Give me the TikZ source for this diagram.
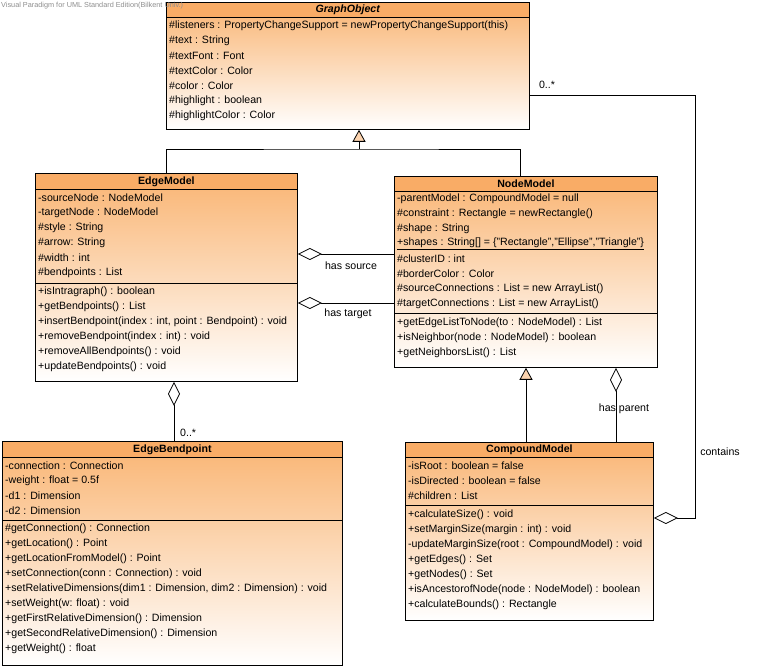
\documentclass[tikz,border=0pt]{standalone}
\usepackage{fontspec}
\setmainfont{Liberation Sans}
\usetikzlibrary{arrows.meta, positioning, calc}
\definecolor{umlhead}{HTML}{F9AC66}
\definecolor{umltop}{HTML}{F9B472}
\definecolor{trifill}{HTML}{FCD3AE}
\definecolor{wmgray}{HTML}{8E8E8E}
\tikzset{
  font=\fontsize{10.6}{15}\selectfont,
  cls/.style={
    draw=black, line width=0.8pt, anchor=north west, inner sep=0pt,
    top color=umltop, bottom color=white
  },
  clshead/.style={
    draw=black, line width=0.8pt, anchor=north west, inner sep=0pt,
    fill=umlhead, font=\fontsize{10.6}{15}\selectfont\bfseries
  },
  attr/.style={anchor=west, inner sep=0pt},
  lbl/.style={inner sep=0pt},
  sep/.style={line width=0.8pt},
  gen/.style={line width=0.8pt, -{Triangle[length=12pt, width=13pt, fill=trifill]}},
  aggr/.style={line width=0.8pt, {Diamond[length=24pt, width=12pt, fill=white]}-}
}

\begin{document}
\begin{tikzpicture}[x=1pt, y=-1pt]
  \useasboundingbox[fill=white] (0,0) rectangle (764,668);

  % GraphObject
  \node[cls, minimum width=363pt, minimum height=127pt] (go) at (166,2) {};
  \node[clshead, minimum width=363pt, minimum height=15pt] (go-h) at (go.north west)
    {\textit{GraphObject}};
  \foreach \t [count=\i from 0] in {
    {\#listeners : PropertyChangeSupport = newPropertyChangeSupport(this)},
    \#text : String, \#textFont : Font, \#textColor : Color, \#color : Color,
    \#highlight : boolean, \#highlightColor : Color}
    \node[attr] (go-a\i) at (169, {26+15*\i}) {\t};

  % EdgeModel
  \node[cls, minimum width=262pt, minimum height=208pt] (em) at (35,173) {};
  \node[clshead, minimum width=262pt, minimum height=16pt] (em-h) at (em.north west) {EdgeModel};
  \draw[sep] (em.west |- 0,283) -- (em.east |- 0,283);
  \foreach \t [count=\i from 0] in {
    -sourceNode : NodeModel, -targetNode : NodeModel, \#style : String,
    \#arrow: String, \#width : int, \#bendpoints : List}
    \node[attr] (em-a\i) at (38, {198+15*\i}) {\t};
  \foreach \t [count=\i from 0] in {
    +isIntragraph() : boolean, +getBendpoints() : List,
    {+insertBendpoint(index : int, point : Bendpoint) : void},
    +removeBendpoint(index : int) : void, +removeAllBendpoints() : void,
    +updateBendpoints() : void}
    \node[attr] (em-m\i) at (38, {292+15*\i}) {\t};

  % NodeModel
  \node[cls, minimum width=263pt, minimum height=191pt] (nm) at (394,176) {};
  \node[clshead, minimum width=263pt, minimum height=15pt] (nm-h) at (nm.north west) {NodeModel};
  \draw[sep] (nm.west |- 0,313) -- (nm.east |- 0,313);
  \foreach \t [count=\i from 0] in {
    -parentModel : CompoundModel = null, \#constraint : Rectangle = newRectangle(),
    \#shape : String,
    {\underline{+shapes : String[] = \{"Rectangle","Ellipse","Triangle"\}}},
    \#clusterID : int, \#borderColor : Color,
    \#sourceConnections : List = new ArrayList(),
    \#targetConnections : List = new ArrayList()}
    \node[attr] (nm-a\i) at (397, {199+15*\i}) {\t};
  \foreach \t [count=\i from 0] in {
    +getEdgeListToNode(to : NodeModel) : List,
    +isNeighbor(node : NodeModel) : boolean, +getNeighborsList() : List}
    \node[attr] (nm-m\i) at (397, {323+15*\i}) {\t};

  % EdgeBendpoint
  \node[cls, minimum width=340pt, minimum height=224pt] (eb) at (2,441) {};
  \node[clshead, minimum width=340pt, minimum height=16pt] (eb-h) at (eb.north west) {EdgeBendpoint};
  \draw[sep] (eb.west |- 0,520) -- (eb.east |- 0,520);
  \foreach \t [count=\i from 0] in {
    -connection : Connection, -weight : float = 0.5f, -d1 : Dimension, -d2 : Dimension}
    \node[attr] (eb-a\i) at (5, {466+15*\i}) {\t};
  \foreach \t [count=\i from 0] in {
    \#getConnection() : Connection, +getLocation() : Point,
    +getLocationFromModel() : Point, +setConnection(conn : Connection) : void,
    {+setRelativeDimensions(dim1 : Dimension, dim2 : Dimension) : void},
    +setWeight(w: float) : void, +getFirstRelativeDimension() : Dimension,
    +getSecondRelativeDimension() : Dimension, +getWeight() : float}
    \node[attr] (eb-m\i) at (5, {529+15*\i}) {\t};

  % CompoundModel
  \node[cls, minimum width=248pt, minimum height=178pt] (cm) at (405,442) {};
  \node[clshead, minimum width=248pt, minimum height=15pt] (cm-h) at (cm.north west) {CompoundModel};
  \draw[sep] (cm.west |- 0,505) -- (cm.east |- 0,505);
  \foreach \t [count=\i from 0] in {
    -isRoot : boolean = false, -isDirected : boolean = false, \#children : List}
    \node[attr] (cm-a\i) at (408, {466+15*\i}) {\t};
  \foreach \t [count=\i from 0] in {
    +calculateSize() : void, +setMarginSize(margin : int) : void,
    -updateMarginSize(root : CompoundModel) : void, +getEdges() : Set,
    +getNodes() : Set, +isAncestorofNode(node : NodeModel) : boolean,
    +calculateBounds() : Rectangle}
    \node[attr] (cm-m\i) at (408, {515+15*\i}) {\t};

  % generalizations
  \coordinate (gohub) at (359,149);
  \coordinate (nmtop) at (nm.north -| 520,0);
  \draw[gen] (gohub) -- (go.south -| gohub);
  \draw[line width=0.8pt] (em.north) |- (gohub) -| (nmtop);
  \draw[gen] (cm.north -| 526,0) -- (nm.south -| 526,0);

  % aggregations
  \draw[aggr] (em.east |- 0,254) -- (nm.west |- 0,254);
  \node[lbl] (srclbl) at (351,266) {has source};
  \draw[aggr] (em.east |- 0,303) -- (nm.west |- 0,303);
  \node[lbl] (tgtlbl) at (348,314) {has target};
  \draw[aggr] (em.south -| 174,0) -- (eb.north -| 174,0);
  \node[lbl, anchor=west] (bpmult) at (180,433) {0..*};
  \draw[aggr] (nm.south -| 616,0) -- (cm.north -| 616,0);
  \node[lbl] (parlbl) at (624,409) {has parent};
  \coordinate (cbend) at (695,518);
  \draw[aggr] (cm.east |- cbend) -- (cbend) |- (go.east |- 0,95);
  \node[lbl] (gomult) at (547,85) {0..*};
  \node[lbl] (contlbl) at (720,452) {contains};

  % watermark
  \node[anchor=west, inner sep=0pt, text=wmgray, font=\fontsize{7.3}{8}\selectfont] (wm) at (1,6)
    {Visual Paradigm for UML Standard Edition(Bilkent Univ.)};
\end{tikzpicture}
\end{document}
